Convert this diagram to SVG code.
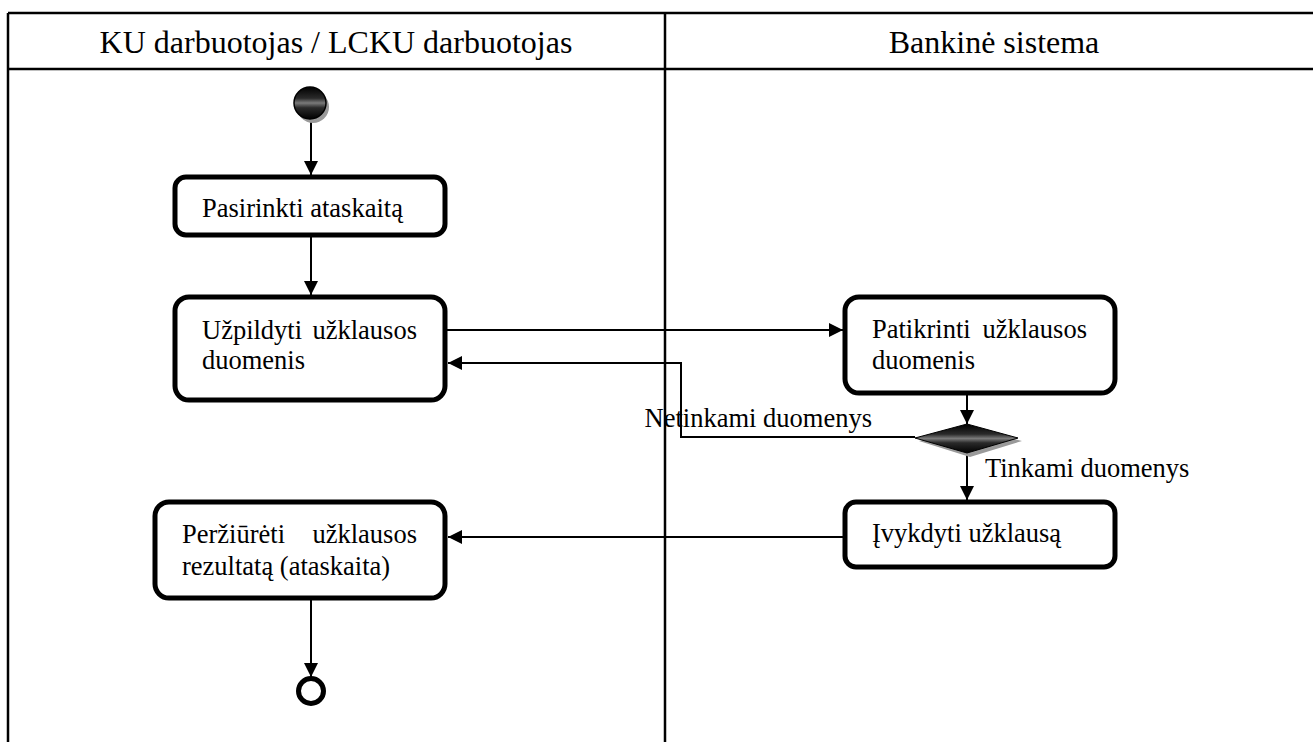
<svg xmlns="http://www.w3.org/2000/svg" width="1313" height="742" viewBox="0 0 1313 742">
  <style>
    .lane { stroke: #000; stroke-width: 2.5; fill: none; }
    .hdr { font-family: "Liberation Serif", "Times New Roman", serif; font-size: 32px; fill: #000; text-anchor: middle; }
    .txt { font-family: "Liberation Serif", "Times New Roman", serif; font-size: 26.5px; fill: #000; }
    .act { fill: #fff; stroke: #000; stroke-width: 5; }
    .edge { stroke: #000; stroke-width: 2; fill: none; }
    .shadow { fill: #9a9a9a; }
  </style>
  <defs>
    <marker id="arrow" markerUnits="userSpaceOnUse" markerWidth="15" markerHeight="14" refX="14" refY="7" orient="auto">
      <path d="M0,0 L14,7 L0,14 z" fill="#000"/>
    </marker>
    <linearGradient id="metal" x1="0" y1="0" x2="0" y2="1">
      <stop offset="0" stop-color="#000"/>
      <stop offset="0.35" stop-color="#2a2a2a"/>
      <stop offset="0.5" stop-color="#7a7a7a"/>
      <stop offset="0.65" stop-color="#2a2a2a"/>
      <stop offset="1" stop-color="#000"/>
    </linearGradient>
  </defs>

  <!-- swimlane frame -->
  <g id="lanes">
    <line class="lane" x1="8" y1="13" x2="1313" y2="13"/>
    <line class="lane" x1="8" y1="69" x2="1313" y2="69"/>
    <line class="lane" x1="8" y1="13" x2="8" y2="742"/>
    <line class="lane" x1="665" y1="13" x2="665" y2="742"/>
    <text class="hdr" x="336" y="53">KU darbuotojas / LCKU darbuotojas</text>
    <text class="hdr" x="994" y="53">Bankinė sistema</text>
  </g>

  <!-- connectors -->
  <g id="connectors">
    <line class="edge" x1="311" y1="119" x2="311" y2="175" marker-end="url(#arrow)"/>
    <line class="edge" x1="311" y1="237" x2="311" y2="295" marker-end="url(#arrow)"/>
    <line class="edge" x1="447" y1="330" x2="843" y2="330" marker-end="url(#arrow)"/>
    <polyline class="edge" points="915,437 681,437 681,363 448,363" marker-end="url(#arrow)"/>
    <line class="edge" x1="967" y1="395" x2="967" y2="424" marker-end="url(#arrow)"/>
    <line class="edge" x1="967" y1="453" x2="967" y2="500" marker-end="url(#arrow)"/>
    <line class="edge" x1="843" y1="537" x2="448" y2="537" marker-end="url(#arrow)"/>
    <line class="edge" x1="311" y1="600" x2="311" y2="677" marker-end="url(#arrow)"/>
    <text class="txt" x="872" y="427" text-anchor="end">Netinkami duomenys</text>
    <text class="txt" x="985" y="477">Tinkami duomenys</text>
  </g>

  <g id="start">
    <circle class="shadow" cx="313" cy="107" r="16"/>
    <circle cx="310" cy="103" r="16" fill="url(#metal)" stroke="#000" stroke-width="1.5"/>
  </g>

  <g id="pasirinkti">
    <rect class="act" x="175" y="177" width="270" height="58" rx="11"/>
    <text class="txt" x="202" y="217">Pasirinkti ataskaitą</text>
  </g>

  <g id="uzpildyti">
    <rect class="act" x="175" y="297" width="270" height="103" rx="14"/>
    <text class="txt" x="202" y="339">Užpildyti</text>
    <text class="txt" x="417" y="339" text-anchor="end">užklausos</text>
    <text class="txt" x="202" y="369">duomenis</text>
  </g>

  <g id="patikrinti">
    <rect class="act" x="845" y="297" width="270" height="96" rx="14"/>
    <text class="txt" x="872" y="338">Patikrinti</text>
    <text class="txt" x="1087" y="338" text-anchor="end">užklausos</text>
    <text class="txt" x="872" y="369">duomenis</text>
  </g>

  <g id="decision">
    <polygon class="shadow" points="919,441 970,427 1022,441 970,457"/>
    <polygon points="915,438 967,424 1018,438 967,453" fill="url(#metal)" stroke="#000" stroke-width="1"/>
  </g>

  <g id="ivykdyti">
    <rect class="act" x="845" y="502" width="270" height="65" rx="11"/>
    <text class="txt" x="872" y="542">Įvykdyti užklausą</text>
  </g>

  <g id="perziureti">
    <rect class="act" x="155" y="502" width="290" height="96" rx="14"/>
    <text class="txt" x="182" y="543">Peržiūrėti</text>
    <text class="txt" x="417" y="543" text-anchor="end">užklausos</text>
    <text class="txt" x="182" y="575">rezultatą (ataskaita)</text>
  </g>

  <g id="end">
    <circle cx="311" cy="691" r="12.5" fill="#fff" stroke="#000" stroke-width="5"/>
  </g>
</svg>
